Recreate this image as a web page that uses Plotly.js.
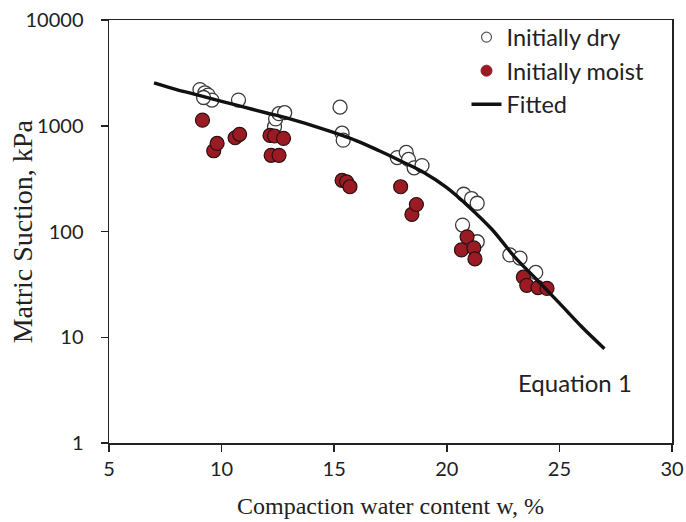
<!DOCTYPE html>
<html>
<head>
<meta charset="utf-8">
<script src="https://cdn.plot.ly/plotly-3.0.1.min.js"></script>
<style>html,body{margin:0;padding:0;background:#fff}#chart{width:686px;height:522px}</style>
</head>
<body>
<div id="chart"></div>
<script>
// Initially dry (open circles)
const dryX = [9.04, 9.26, 9.4, 9.57, 9.2, 10.75, 12.35, 12.4, 12.55, 12.8, 15.26, 15.35, 15.4, 17.8, 18.2, 18.3, 18.55, 18.9, 20.75, 21.1, 21.35, 20.7, 21.35, 22.8, 23.25, 23.95];
const dryY = [2200, 2050, 1950, 1750, 1850, 1750, 980, 1160, 1300, 1330, 1500, 850, 730, 500, 560, 480, 400, 420, 225, 205, 185, 115, 80, 60, 56, 41];
// Initially moist (filled circles)
const moistX = [9.15, 9.65, 9.8, 10.6, 10.8, 12.15, 12.35, 12.75, 12.2, 12.55, 15.35, 15.55, 15.7, 17.95, 18.45, 18.65, 20.65, 20.9, 21.2, 21.25, 23.4, 23.55, 24.05, 24.45];
const moistY = [1130, 580, 680, 770, 830, 810, 800, 760, 525, 525, 305, 295, 265, 265, 145, 180, 67, 89, 70, 55, 37, 31, 29.5, 29];
// Fitted curve
const fitX = [7, 8, 9, 10, 11, 12, 13, 14, 15, 16, 17, 18, 19, 20, 21, 22, 23, 24, 25, 26, 27];
const fitY = [2540, 2200, 1940, 1700, 1500, 1320, 1170, 1010, 860, 720, 580, 460, 360, 260, 170, 105, 58, 35, 21, 12.5, 7.8];
// Axis ticks
const xTicks = [5, 10, 15, 20, 25, 30];
const yTicks = [1, 10, 100, 1000, 10000];
const yTickText = ['1', '10', '100', '1000', '10000'];
const legendNames = ['Initially dry', 'Initially moist', 'Fitted'];

const sans = 'Lato, "Open Sans", sans-serif';
const serif = '"Liberation Serif", "Times New Roman", serif';

const dryMarker = {symbol: 'circle', size: 14, color: '#ffffff', line: {color: '#3a3a3a', width: 1.3}};
const moistMarker = {symbol: 'circle', size: 14, color: '#9b1b24', line: {color: '#2a1010', width: 1.2}};

const traces = [
  {x: dryX, y: dryY, mode: 'markers', type: 'scatter', marker: dryMarker, showlegend: false},
  {x: moistX, y: moistY, mode: 'markers', type: 'scatter', marker: moistMarker, showlegend: false},
  {x: fitX, y: fitY, mode: 'lines', type: 'scatter', line: {color: '#111', width: 3.4, shape: 'spline'}, showlegend: false},
  // legend entries (attached to the tick-only overlay axis)
  {x: [null], y: [null], yaxis: 'y2', mode: 'markers', type: 'scatter', name: legendNames[0],
   marker: {symbol: 'circle', size: 10, color: '#fff', line: {color: '#555', width: 1.2}}},
  {x: [null], y: [null], yaxis: 'y2', mode: 'markers', type: 'scatter', name: legendNames[1],
   marker: {symbol: 'circle', size: 11, color: '#9b1b24', line: {color: '#9b1b24', width: 1}}},
  {x: [null], y: [null], yaxis: 'y2', mode: 'lines', type: 'scatter', name: legendNames[2],
   line: {color: '#111', width: 3.4}}
];

const layout = {
  width: 686, height: 522,
  margin: {l: 109, r: 14, t: 20, b: 79},
  paper_bgcolor: '#fff', plot_bgcolor: '#fff',
  showlegend: true,
  legend: {x: 0.635, y: 1.011, xanchor: 'left', yanchor: 'top', bgcolor: 'rgba(0,0,0,0)',
           font: {family: sans, size: 23.5, color: '#222'}, itemwidth: 30},
  xaxis: {
    range: [5, 30], tickvals: xTicks, ticks: 'outside', ticklen: 7, tickwidth: 1.5, tickcolor: '#222',
    showline: true, linecolor: '#222', linewidth: 1.5, mirror: true, showgrid: false, zeroline: false,
    tickfont: {family: sans, size: 20, color: '#222'},
    title: {text: 'Compaction water content w, %', font: {family: serif, size: 24, color: '#222'}, standoff: 18}
  },
  // labels axis: invisible long ticks push the labels away from the axis line
  yaxis: {
    type: 'log', range: [0, 4], tickvals: yTicks, ticktext: yTickText, ticks: 'outside', ticklen: 20, tickwidth: 1, tickcolor: 'rgba(0,0,0,0)',
    showline: true, linecolor: '#222', linewidth: 1.5, mirror: true, showgrid: false, zeroline: false,
    tickfont: {family: sans, size: 20, color: '#222'}
  },
  // visible short ticks
  yaxis2: {
    type: 'log', range: [0, 4], overlaying: 'y', side: 'left', tickvals: yTicks, showticklabels: false,
    ticks: 'outside', ticklen: 7, tickwidth: 1.5, tickcolor: '#222',
    showline: false, showgrid: false, zeroline: false
  },
  annotations: [
    {x: 25.7, y: Math.log10(3.7), xref: 'x', yref: 'y', text: 'Equation 1', showarrow: false,
     font: {family: sans, size: 24, color: '#222'}},
    {x: -0.153, y: 0.5, xref: 'paper', yref: 'paper', xanchor: 'center', yanchor: 'middle', textangle: -90,
     text: 'Matric Suction, kPa', showarrow: false, font: {family: serif, size: 28, color: '#222'}}
  ]
};

Plotly.newPlot('chart', traces, layout, {displayModeBar: false, staticPlot: true});
</script>
</body>
</html>
